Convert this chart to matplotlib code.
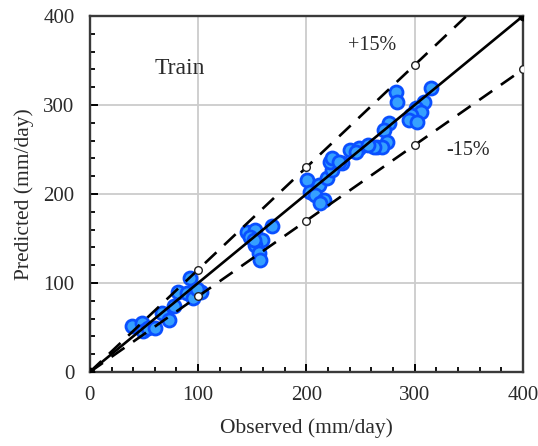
import matplotlib
matplotlib.use("Agg")
import matplotlib.pyplot as plt
import numpy as np
from matplotlib.ticker import MultipleLocator

observed = [38.6, 47.8, 49.4, 54, 60.2, 66.4, 73.5, 77.8, 81.8, 89.5, 92.6, 95.7, 102.5, 99.0,
            145, 152.8, 148.1, 159, 168.2, 152.8, 155.9, 157.4, 151.2,
            200.6, 203.7, 211.4, 208.3, 216, 219.1, 223.8, 222.2, 233, 240.7,
            282.4, 284, 315, 308.6, 301, 305.6, 296.3, 294.8, 302.5, 276.2, 271.6, 274.7,
            265.4, 270, 262.3, 248.5, 245.4, 223.8, 230.0, 213.0, 257.0]
predicted = [51.7, 55.4, 46.4, 49, 49.8, 66, 58.4, 74, 90, 88.4, 106, 82.8, 89.5, 93.0,
             157.7, 159.6, 152, 148.3, 164, 142.7, 133.4, 125.8, 148.3,
             215.7, 202.6, 210, 198.9, 193.3, 217.6, 227, 236.3, 234.5, 249.4,
             315, 303.7, 318.8, 303.7, 296.3, 292.5, 288.8, 283, 281.2, 279.4, 271.9, 258.8,
             253.2, 253.2, 253.2, 251.3, 247.5, 240, 236.0, 190.0, 255.0]

ref_x = [0, 400]
plus_x = [0, 100, 200, 300, 348]
minus_x = [0, 100, 200, 300, 400]

plt.rcParams['font.family'] = ['Liberation Serif', 'DejaVu Serif']
txt = '#2a2a2a'

fig = plt.figure(figsize=(5.38, 4.46), dpi=100)
ax = fig.add_axes([0.167, 0.166, 0.805, 0.798])

ax.grid(True, which='major', color='#cccccc', lw=1.3, zorder=0)

ax.scatter(observed, predicted, s=88, facecolor='#35a0ff', edgecolor='#0a50ff',
           linewidths=2.0, zorder=3)

ax.plot(ref_x, ref_x, color='black', lw=1.9, marker='o', ms=6, zorder=4)
ax.plot(plus_x, [v * 1.15 for v in plus_x], color='black', lw=1.9, ls=(0, (6, 4)),
        marker='o', ms=5.5, mfc='white', mec='#222222', markevery=[1, 2, 3], zorder=4)
ax.plot(minus_x, [v * 0.85 for v in minus_x], color='black', lw=1.9, ls=(0, (6, 4)),
        marker='o', ms=5.5, mfc='white', mec='#222222', markevery=[1, 2, 3, 4], zorder=4)

ax.set_xlim(0, 400)
ax.set_ylim(0, 400)
ax.xaxis.set_major_locator(MultipleLocator(100))
ax.yaxis.set_major_locator(MultipleLocator(100))
ax.xaxis.set_minor_locator(MultipleLocator(20))
ax.yaxis.set_minor_locator(MultipleLocator(20))
ax.tick_params(which='major', direction='in', length=6, width=1.4, labelsize=15,
               labelcolor=txt)
ax.tick_params(axis='x', which='major', pad=10)
ax.tick_params(axis='y', which='major', pad=11)
ax.tick_params(which='minor', direction='in', length=3.5, width=1.3)
for s in ax.spines.values():
    s.set_color('#3a3a3a')
    s.set_linewidth(1.7)

ax.set_xlabel('Observed (mm/day)', fontsize=15.5, color=txt, labelpad=10)
ax.set_ylabel('Predicted (mm/day)', fontsize=15.5, color=txt, labelpad=7)

ax.text(83, 341, 'Train', fontsize=17, color=txt, ha='center', va='center')
ax.text(261, 367, '+15%', fontsize=14.5, color=txt, ha='center', va='center')
ax.text(349, 249, '-15%', fontsize=14.5, color=txt, ha='center', va='center')

fig.savefig('out.png', dpi=100)
